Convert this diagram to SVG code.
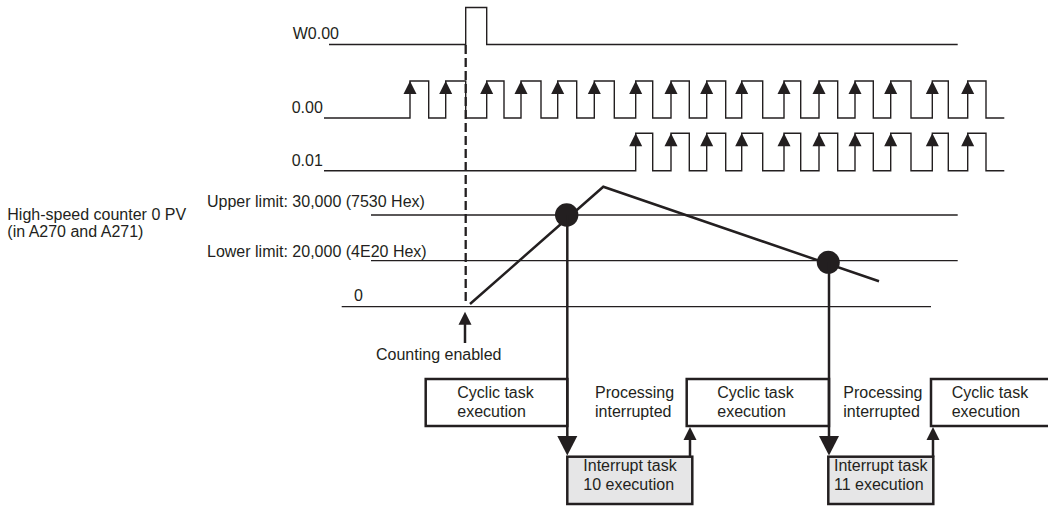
<svg xmlns="http://www.w3.org/2000/svg" width="1048" height="506" viewBox="0 0 1048 506">
<style>
text{font-family:"Liberation Sans",Arial,sans-serif;font-size:16px;fill:#231f20}
.wave{fill:none;stroke:#231f20;stroke-width:1.4}
.thin{fill:none;stroke:#231f20;stroke-width:1.3}
.thick{fill:none;stroke:#231f20;stroke-width:2.5}
.box{fill:#fff;stroke:#231f20;stroke-width:2.5}
.ibox{fill:#e6e6e7;stroke:#231f20;stroke-width:2.5}
.head{fill:#231f20}
</style>
<defs>
<path id="up" d="M0,0 L-6.5,13 L6.5,13 Z" class="head"/>
</defs>
<rect width="1048" height="506" fill="#fff"/>
<g id="signals">
<text x="292.7" y="39">W0.00</text>
<path class="wave" d="M329,44.5 H465.7 V7.5 H486.7 V44.5 H957.7"/>
<text x="291.7" y="113.3">0.00</text>
<path class="wave" d="M324,118 H410 V81 H428.7 V118 H445.7 V81 H465.7 V118 H486.7 V81 H504 V118 H521 V81 H541 V118 H557.7 V81 H576.7 V118 H594.3 V81 H614.3 V118 H635.7 V81 H652.7 V118 H671 V81 H689.3 V118 H706.7 V81 H725.7 V118 H741.7 V81 H762.7 V118 H784 V81 H800.7 V118 H819 V81 H837.7 V118 H855 V81 H873.3 V118 H890.7 V81 H911 V118 H932.3 V81 H948.3 V118 H967.7 V81 H986 V118 H1004.3"/>
<g>
<use href="#up" x="410" y="81"/><use href="#up" x="445.7" y="81"/><use href="#up" x="486.7" y="81"/><use href="#up" x="521" y="81"/><use href="#up" x="557.7" y="81"/><use href="#up" x="594.3" y="81"/><use href="#up" x="635.7" y="81"/><use href="#up" x="671" y="81"/><use href="#up" x="706.7" y="81"/><use href="#up" x="741.7" y="81"/><use href="#up" x="784" y="81"/><use href="#up" x="819" y="81"/><use href="#up" x="855" y="81"/><use href="#up" x="890.7" y="81"/><use href="#up" x="932.3" y="81"/><use href="#up" x="967.7" y="81"/>
</g>
<text x="291.7" y="166">0.01</text>
<path class="wave" d="M324,170.7 H635.7 V133.3 H652.7 V170.7 H671 V133.3 H689.3 V170.7 H706.7 V133.3 H725.7 V170.7 H741.7 V133.3 H762.7 V170.7 H784 V133.3 H800.7 V170.7 H819 V133.3 H837.7 V170.7 H855 V133.3 H873.3 V170.7 H890.7 V133.3 H911 V170.7 H932.3 V133.3 H948.3 V170.7 H967.7 V133.3 H986 V170.7 H1004.3"/>
<g>
<use href="#up" x="635.7" y="133.3"/><use href="#up" x="671" y="133.3"/><use href="#up" x="706.7" y="133.3"/><use href="#up" x="741.7" y="133.3"/><use href="#up" x="784" y="133.3"/><use href="#up" x="819" y="133.3"/><use href="#up" x="855" y="133.3"/><use href="#up" x="890.7" y="133.3"/><use href="#up" x="932.3" y="133.3"/><use href="#up" x="967.7" y="133.3"/>
</g>
</g>
<g id="pv-graph">
<text x="7.3" y="220">High-speed counter 0 PV</text>
<text x="7.3" y="236.7">(in A270 and A271)</text>
<text x="207" y="207.3">Upper limit: 30,000 (7530 Hex)</text>
<line class="thin" x1="371" y1="215" x2="957.7" y2="215"/>
<text x="207" y="256.7">Lower limit: 20,000 (4E20 Hex)</text>
<line class="thin" x1="371" y1="260.7" x2="957.7" y2="260.7"/>
<text x="354" y="300.7">0</text>
<line class="thin" x1="341.7" y1="306.7" x2="931" y2="306.7"/>
<path class="thick" d="M470,304 L603.3,186.7 L879,281.3"/>
<circle cx="566.7" cy="215" r="11.7" class="head"/>
<circle cx="828.3" cy="262.3" r="11.5" class="head"/>
</g>
<g id="counting-enabled">
<text x="376" y="360">Counting enabled</text>
</g>
<g id="cyclic1">
<rect class="box" x="425.7" y="379" width="141.6" height="47"/>
<text x="457.3" y="397.7">Cyclic task</text>
<text x="457.3" y="416.7">execution</text>
</g>
<g id="processing1">
<text x="595" y="397.7">Processing</text>
<text x="595" y="416.7">interrupted</text>
</g>
<g id="cyclic2">
<rect class="box" x="686.7" y="379" width="142.3" height="47"/>
<text x="717.3" y="397.7">Cyclic task</text>
<text x="717.3" y="416.7">execution</text>
</g>
<g id="processing2">
<text x="843.3" y="397.7">Processing</text>
<text x="843.3" y="416.7">interrupted</text>
</g>
<g id="cyclic3">
<rect class="box" x="931" y="379" width="125" height="47"/>
<text x="951.7" y="397.7">Cyclic task</text>
<text x="951.7" y="416.7">execution</text>
</g>
<g id="interrupt10">
<rect class="ibox" x="567.3" y="456.7" width="125" height="47.3"/>
<text x="583.3" y="471">Interrupt task</text>
<text x="583.3" y="490">10 execution</text>
</g>
<g id="interrupt11">
<rect class="ibox" x="828.3" y="456.7" width="105" height="47.3"/>
<text x="834" y="471">Interrupt task</text>
<text x="834" y="490">11 execution</text>
</g>
<g id="connectors">
<line x1="465.7" y1="45" x2="465.7" y2="303" stroke="#231f20" stroke-width="2.3" stroke-dasharray="9 4"/>
<line class="thick" x1="465" y1="324" x2="465" y2="343"/>
<use href="#up" x="465" y="311.7"/>
<line class="thick" x1="567.3" y1="215" x2="567.3" y2="437"/>
<path class="head" d="M557.3,436 L577.3,436 L567.3,455.5 Z"/>
<line class="thick" x1="829" y1="262" x2="829" y2="437"/>
<path class="head" d="M819,436 L839,436 L829,455.5 Z"/>
<line class="thick" x1="690" y1="457" x2="690" y2="439"/>
<use href="#up" x="690" y="427"/>
<line class="thick" x1="933" y1="457" x2="933" y2="439"/>
<use href="#up" x="933" y="427"/>
</g>
</svg>
